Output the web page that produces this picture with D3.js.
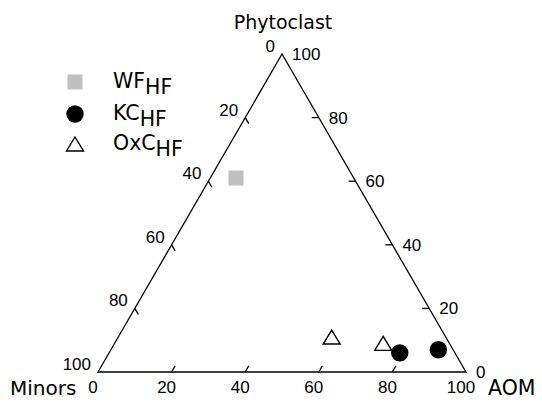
<!DOCTYPE html>
<html><head><meta charset="utf-8">
<script src="https://cdn.jsdelivr.net/npm/d3@7"></script>
<style>body{margin:0;background:#fff}svg{display:block}</style>
</head><body>
<svg id="c" width="542" height="402"></svg>
<script>
// Data: [AOM, Phytoclast, Minors] in %
const WF = [[7, 61, 32]];
const KC = [[79, 6, 15], [89, 7, 4]];
const OxC = [[58, 11, 31], [73, 9, 18]];
const ticks = [0, 20, 40, 60, 80, 100];
const series = [
  {name: "WF", sub: "HF", data: WF, shape: "square"},
  {name: "KC", sub: "HF", data: KC, shape: "circle"},
  {name: "OxC", sub: "HF", data: OxC, shape: "triangle"}
];

const svg = d3.select("#c");
const L = [98, 372], R = [466, 372], A = [282, 54];
function pos(aom, phy, min) {
  const s = aom + phy + min;
  const a = aom / s, p = phy / s, m = min / s;
  return [L[0]*m + R[0]*a + A[0]*p, L[1]*m + R[1]*a + A[1]*p];
}
const font = "'Liberation Sans', Arial, sans-serif";
const fs = 17;
const g = svg.append("g");
g.append("path")
  .attr("d", d3.line()([L, R, A, L]) + "Z")
  .attr("fill", "none").attr("stroke", "#000").attr("stroke-width", 1.3);

const tl = 7;
const c60 = Math.cos(Math.PI/3), s60 = Math.sin(Math.PI/3);
// bottom axis: AOM 0 (left) -> 100 (right)
ticks.forEach(t => {
  const p = pos(t, 0, 100 - t);
  if (t > 0 && t < 100) g.append("line").attr("x1", p[0]).attr("y1", p[1])
    .attr("x2", p[0] + tl*c60).attr("y2", p[1] - tl*s60).attr("stroke", "#000").attr("stroke-width", 1.3);
  g.append("text").attr("x", p[0] - 5).attr("y", p[1] + 21).attr("text-anchor", "middle")
    .attr("font-family", font).attr("font-size", fs).text(t);
});
// right axis: Phytoclast 0 (bottom right) -> 100 (apex)
ticks.forEach(t => {
  const p = pos(100 - t, t, 0);
  if (t > 0 && t < 100) g.append("line").attr("x1", p[0]).attr("y1", p[1])
    .attr("x2", p[0] - tl).attr("y2", p[1]).attr("stroke", "#000").attr("stroke-width", 1.3);
  g.append("text").attr("x", p[0] + 10).attr("y", p[1] + 6)
    .attr("font-family", font).attr("font-size", fs).text(t);
});
// left axis: Minors 0 (apex) -> 100 (bottom left)
ticks.forEach(t => {
  const p = pos(0, 100 - t, t);
  if (t > 0 && t < 100) g.append("line").attr("x1", p[0]).attr("y1", p[1])
    .attr("x2", p[0] + tl*c60).attr("y2", p[1] + tl*s60).attr("stroke", "#000").attr("stroke-width", 1.3);
  g.append("text").attr("x", p[0] - 7).attr("y", p[1] - 2).attr("text-anchor", "end")
    .attr("font-family", font).attr("font-size", fs).text(t);
});

const tfont = "'DejaVu Sans', Verdana, sans-serif";
g.append("text").attr("x", 283).attr("y", 29).attr("text-anchor", "middle")
  .attr("font-family", tfont).attr("font-size", 19).text("Phytoclast");
g.append("text").attr("x", 10).attr("y", 395)
  .attr("font-family", tfont).attr("font-size", 20).text("Minors");
g.append("text").attr("x", 488).attr("y", 395)
  .attr("font-family", tfont).attr("font-size", 20.5).text("AOM");

function drawMarker(sel, shape, x, y) {
  if (shape === "square") {
    sel.append("rect").attr("x", x - 7.5).attr("y", y - 7.5).attr("width", 15).attr("height", 15)
      .attr("fill", "#bfbfbf");
  } else if (shape === "circle") {
    sel.append("circle").attr("cx", x).attr("cy", y).attr("r", 8.7).attr("fill", "#000");
  } else {
    const h = 14, w = 17;
    sel.append("path").attr("d", d3.line()([[x - w/2, y + h/2], [x + w/2, y + h/2], [x, y - h/2]]) + "Z")
      .attr("fill", "#fff").attr("stroke", "#000").attr("stroke-width", 1.4);
  }
}
series.forEach(s => s.data.forEach(d => {
  const p = pos(d[0], d[1], d[2]);
  drawMarker(g, s.shape, p[0], p[1]);
}));

// legend
const legY = [82, 114, 144];
series.forEach((s, i) => {
  drawMarker(g, s.shape, 75, legY[i]);
  const t = g.append("text").attr("x", 113).attr("y", legY[i] + 6)
    .attr("font-family", tfont).attr("font-size", 20.5);
  t.append("tspan").text(s.name);
  t.append("tspan").attr("dy", 6).text(s.sub);
});
</script>
</body></html>
